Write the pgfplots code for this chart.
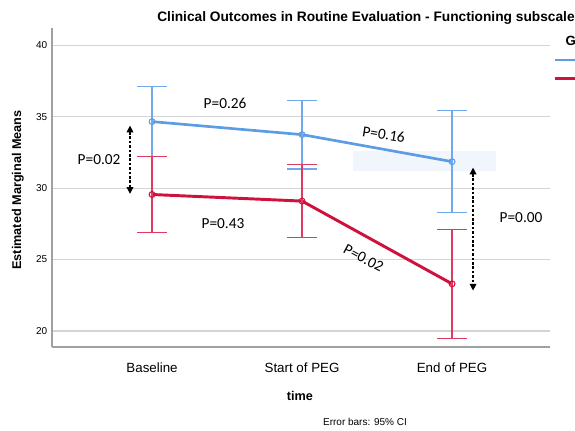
\documentclass[border=0pt]{standalone}
\usepackage{pgfplots}
\pgfplotsset{compat=1.18}
\usepackage{fontspec}
\setmainfont{Liberation Sans}
\newfontfamily\calib{Carlito}
\usetikzlibrary{arrows.meta}
\definecolor{blueline}{RGB}{92,156,228}
\definecolor{blueerr}{RGB}{112,170,236}
\definecolor{redline}{RGB}{206,18,60}
\definecolor{rederr}{RGB}{222,58,98}
\definecolor{gridc}{RGB}{212,212,212}
\definecolor{axisc}{RGB}{160,160,160}
\definecolor{shadec}{RGB}{241,246,252}
\pgfplotstableread{
x y e
0 34.65 2.45
1 33.74 2.40
2 31.85 3.55
}\blue
\pgfplotstableread{
x y e
0 29.55 2.65
1 29.09 2.57
2 23.30 3.80
}\red
\begin{document}
\begin{tikzpicture}
\useasboundingbox (0,0) rectangle (431.25pt,322.5pt);
\begin{axis}[
  at={(39pt,62.25pt)}, anchor=south west,
  scale only axis, width=373.5pt, height=239.25pt,
  xmin=-0.667, xmax=2.653, ymin=18.88, ymax=41.2,
  axis x line=bottom, axis y line=left,
  axis line style={-, axisc, line width=1pt},
  xtick={0,1,2}, xticklabels={Baseline, Start of PEG, End of PEG},
  ytick={20,25,30,35,40},
  major tick length=0pt,
  ymajorgrids, grid style={gridc, line width=0.8pt},
  xticklabel style={font=\fontsize{10}{12}\selectfont, yshift=-8pt},
  yticklabel style={font=\fontsize{7.5}{9}\selectfont},
  /pgf/number format/assume math mode=true,
  clip=false,
  legend style={at={(1.006,0.925)}, anchor=north west, draw=none, fill=none, inner sep=0pt,
    font=\fontsize{9}{10}\selectfont, row sep=2pt},
  legend cell align=left,
  legend image code/.code={\draw[#1, mark=none] (0pt,0pt) -- (22pt,0pt);},
]
\fill[shadec] (axis cs:1.34,32.6) rectangle (axis cs:2.29,31.2);
\addplot[blueline, line width=2pt, mark=o, mark size=2.2pt,
  mark options={solid, fill=white, line width=0.8pt, draw=blueline},
  error bars/.cd, y dir=both, y explicit,
  error bar style={line width=0.9pt, blueerr},
  error mark options={line width=0.9pt, blueerr, mark size=11.25pt, rotate=90}]
  table[x=x, y=y, y error=e] {\blue};
\addplot[redline, line width=2.2pt, mark=o, mark size=2.2pt,
  mark options={solid, fill=white, line width=0.8pt, draw=redline},
  error bars/.cd, y dir=both, y explicit,
  error bar style={line width=0.9pt, rederr},
  error mark options={line width=0.9pt, rederr, mark size=11.25pt, rotate=90}]
  table[x=x, y=y, y error=e] {\red};
\legend{Group 1, Group 2}
\draw[black, line width=0.9pt, dash pattern=on 2pt off 1.3pt, {Triangle[length=5pt,width=5pt]}-{Triangle[length=5pt,width=5pt]}]
  (axis cs:-0.147,34.37) -- (axis cs:-0.147,29.6);
\draw[black, line width=0.9pt, dash pattern=on 2pt off 1.3pt, {Triangle[length=5pt,width=5pt]}-{Triangle[length=5pt,width=5pt]}]
  (axis cs:2.14,31.43) -- (axis cs:2.14,22.83);
\node[font=\calib\fontsize{11.5}{13}\selectfont] at (axis cs:0.487,35.91) {P=0.26};
\node[font=\calib\fontsize{11.5}{13}\selectfont, rotate=-9] at (axis cs:1.545,33.75) {P=0.16};
\node[font=\calib\fontsize{11.5}{13}\selectfont] at (axis cs:-0.353,32.0) {P=0.02};
\node[font=\calib\fontsize{11.5}{13}\selectfont] at (axis cs:0.473,27.55) {P=0.43};
\node[font=\calib\fontsize{11.5}{13}\selectfont, rotate=-28] at (axis cs:1.41,25.1) {P=0.02};
\node[font=\calib\fontsize{11.5}{13}\selectfont] at (axis cs:2.46,27.97) {P=0.00};
\end{axis}
\node[anchor=west, inner sep=0pt, font=\bfseries\fontsize{10.3}{12}\selectfont] at (117.75pt,309pt) {Clinical Outcomes in Routine Evaluation - Functioning subscale};
\node[anchor=west, inner sep=0pt, font=\bfseries\fontsize{10}{12}\selectfont] at (424pt,291pt) {Group};
\node[rotate=90, font=\bfseries\fontsize{9.5}{11}\selectfont] at (13.5pt,180pt) {Estimated Marginal Means};
\node[font=\bfseries\fontsize{9.5}{11}\selectfont] at (225pt,25.5pt) {time};
\node[font=\fontsize{7.5}{9}\selectfont] at (273.75pt,6pt) {Error bars: 95\% CI};
\end{tikzpicture}
\end{document}
